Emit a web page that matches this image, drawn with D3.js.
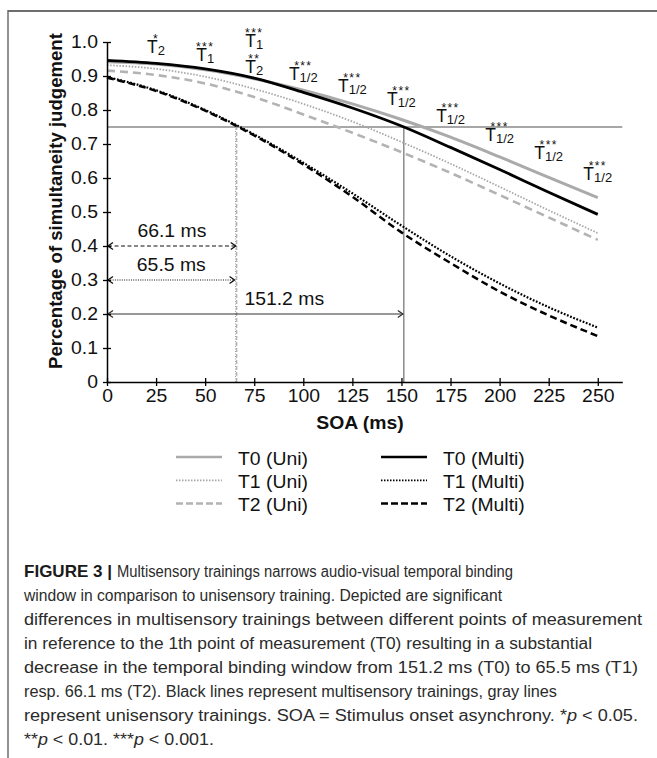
<!DOCTYPE html>
<html>
<head>
<meta charset="utf-8">
<script src="https://cdn.jsdelivr.net/npm/d3@7"></script>
<style>
  html, body { margin: 0; padding: 0; background: #fff; }
  svg { display: block; }
  text { font-family: "Liberation Sans", Arial, Helvetica, sans-serif; }
</style>
</head>
<body>
<svg id="chart" width="657" height="758"></svg>
<script>
// ---------- data ----------
const soa = [0, 25, 50, 75, 100, 125, 150, 175, 200, 225, 250];
const t0Uni   = [0.942, 0.935, 0.918, 0.892, 0.858, 0.818, 0.772, 0.720, 0.662, 0.602, 0.542];
const t1Uni   = [0.932, 0.921, 0.898, 0.862, 0.818, 0.766, 0.706, 0.642, 0.574, 0.505, 0.438];
const t2Uni   = [0.916, 0.903, 0.878, 0.838, 0.787, 0.733, 0.676, 0.615, 0.550, 0.484, 0.418];
const t0Multi = [0.946, 0.937, 0.921, 0.894, 0.852, 0.806, 0.753, 0.690, 0.625, 0.558, 0.493];
const t1Multi = [0.897, 0.858, 0.800, 0.728, 0.645, 0.555, 0.460, 0.370, 0.290, 0.220, 0.160];
const t2Multi = [0.895, 0.856, 0.798, 0.725, 0.640, 0.545, 0.440, 0.350, 0.266, 0.196, 0.135];

const xTicks = [0, 25, 50, 75, 100, 125, 150, 175, 200, 225, 250];
const yTicks = [0, 0.1, 0.2, 0.3, 0.4, 0.5, 0.6, 0.7, 0.8, 0.9, 1.0];

const threshold = 0.75;
const windowT0 = 151.2, windowT1 = 65.5, windowT2 = 66.1;
const arrowLevelT0 = 0.2, arrowLevelT1 = 0.3, arrowLevelT2 = 0.4;

// significance annotations
const annotSOA   = [25, 50, 75, 75, 100, 125, 150, 175, 200, 225, 250];
const annotStars = ["*", "***", "***", "**", "***", "***", "***", "***", "***", "***", "***"];
const annotSub   = ["2", "1", "1", "2", "1/2", "1/2", "1/2", "1/2", "1/2", "1/2", "1/2"];
const annotLevel = [0.968, 0.944, 0.985, 0.909, 0.888, 0.854, 0.815, 0.766, 0.709, 0.656, 0.594];

const legendLabels = ["T0 (Uni)", "T1 (Uni)", "T2 (Uni)", "T0 (Multi)", "T1 (Multi)", "T2 (Multi)"];

// ---------- drawing ----------
const svg = d3.select("#chart");
const FS = 17.5, STRETCH = 1.107;
function stretch(sel, f) {
  sel.each(function () {
    const w = this.getComputedTextLength();
    d3.select(this).attr("textLength", w * f).attr("lengthAdjust", "spacingAndGlyphs");
  });
}

// figure frame (top and left rules)
svg.append("line").attr("x1", 8).attr("x2", 657).attr("y1", 11).attr("y2", 11)
  .attr("stroke", "#6e6e6e").attr("stroke-width", 2);
svg.append("line").attr("x1", 8).attr("x2", 8).attr("y1", 10).attr("y2", 758)
  .attr("stroke", "#6e6e6e").attr("stroke-width", 1.5);

const x = d3.scaleLinear().domain([0, 262.5]).range([107, 622.3]);
const y = d3.scaleLinear().domain([0, 1]).range([382, 42]);

const series = [
  { vals: t0Uni,   color: "#aaaaaa", width: 3,   dash: null },
  { vals: t1Uni,   color: "#a6a6a6", width: 1.8, dash: "1.5,1.6" },
  { vals: t2Uni,   color: "#b3b3b3", width: 2.6, dash: "8,5" },
  { vals: t0Multi, color: "#000000", width: 2.8, dash: null },
  { vals: t1Multi, color: "#000000", width: 2.2, dash: "1.8,1.6" },
  { vals: t2Multi, color: "#000000", width: 2.5, dash: "7,4" }
];

// reference lines
svg.append("line").attr("x1", x(0)).attr("x2", x(262.5))
  .attr("y1", y(threshold)).attr("y2", y(threshold))
  .attr("stroke", "#8a8a8a").attr("stroke-width", 1.3);
svg.append("line").attr("x1", x(windowT0)).attr("x2", x(windowT0))
  .attr("y1", y(0)).attr("y2", y(threshold))
  .attr("stroke", "#7a7a7a").attr("stroke-width", 1.3);
svg.append("line").attr("x1", x(windowT2)).attr("x2", x(windowT2))
  .attr("y1", y(0)).attr("y2", y(threshold))
  .attr("stroke", "#9a9a9a").attr("stroke-width", 1).attr("stroke-dasharray", "4,2");
svg.append("line").attr("x1", x(windowT1)).attr("x2", x(windowT1))
  .attr("y1", y(0)).attr("y2", y(threshold))
  .attr("stroke", "#9a9a9a").attr("stroke-width", 1).attr("stroke-dasharray", "1,1.5");

// curves
const line = d3.line().x((d, i) => x(soa[i])).y(d => y(d)).curve(d3.curveMonotoneX);
series.forEach(s => {
  svg.append("path").datum(s.vals).attr("d", line)
    .attr("fill", "none").attr("stroke", s.color).attr("stroke-width", s.width)
    .attr("stroke-dasharray", s.dash);
});

// window arrows
function arrow(x0, x1, yy, dash, color, label, labelX) {
  const g = svg.append("g");
  g.append("line").attr("x1", x0 + 1).attr("x2", x1 - 1).attr("y1", yy).attr("y2", yy)
    .attr("stroke", color).attr("stroke-width", 1.2).attr("stroke-dasharray", dash);
  g.append("path").attr("d", `M${x0 + 6},${yy - 3.5} L${x0 + 1},${yy} L${x0 + 6},${yy + 3.5}`)
    .attr("fill", "none").attr("stroke", color).attr("stroke-width", 1.3);
  g.append("path").attr("d", `M${x1 - 6},${yy - 3.5} L${x1 - 1},${yy} L${x1 - 6},${yy + 3.5}`)
    .attr("fill", "none").attr("stroke", color).attr("stroke-width", 1.3);
  const t = g.append("text").attr("x", labelX).attr("y", yy - 9).attr("text-anchor", "middle")
    .attr("font-size", FS).attr("fill", "#111").text(label);
  stretch(t, STRETCH);
}
arrow(x(0), x(windowT2), y(arrowLevelT2), "4,2.5", "#111", windowT2 + " ms", (x(0) + x(windowT2)) / 2);
arrow(x(0), x(windowT1), y(arrowLevelT1), "1,1.3", "#111", windowT1 + " ms", (x(0) + x(windowT1)) / 2);
arrow(x(0), x(windowT0), y(arrowLevelT0), null, "#333", windowT0 + " ms", x(90.3));

// axes
const xAxis = svg.append("g").attr("transform", `translate(0,${y(0)})`)
  .call(d3.axisBottom(x).tickValues(xTicks).tickSize(4).tickSizeOuter(0));
xAxis.select(".domain").attr("stroke", "#000").attr("stroke-width", 1.5);
xAxis.selectAll(".tick line").attr("y1", -4).attr("y2", 4).attr("stroke-width", 1.3);
xAxis.selectAll(".tick text").attr("y", 8).attr("font-size", FS)
  .attr("font-family", "Liberation Sans, Arial, sans-serif").attr("fill", "#111");
stretch(xAxis.selectAll(".tick text"), STRETCH);

const yAxis = svg.append("g").attr("transform", `translate(${x(0)},0)`)
  .call(d3.axisLeft(y).tickValues(yTicks).tickSize(4).tickSizeOuter(0)
    .tickFormat(d => d === 0 ? "0" : d3.format(".1f")(d)));
yAxis.select(".domain").attr("stroke", "#000").attr("stroke-width", 1.5);
yAxis.selectAll(".tick line").attr("x1", -4).attr("x2", 4).attr("stroke-width", 1.3);
yAxis.selectAll(".tick text").attr("x", -9).attr("font-size", FS)
  .attr("font-family", "Liberation Sans, Arial, sans-serif").attr("fill", "#111");
stretch(yAxis.selectAll(".tick text"), STRETCH);

// axis titles
svg.append("text").attr("transform", "translate(62,201) rotate(-90)")
  .attr("text-anchor", "middle").attr("font-size", 18.6).attr("font-weight", "bold")
  .attr("fill", "#111").text("Percentage of simultaneity judgement");
const xt = svg.append("text").attr("x", 360).attr("y", 429).attr("text-anchor", "middle")
  .attr("font-size", FS).attr("font-weight", "bold").attr("fill", "#111").text("SOA (ms)");
stretch(xt, STRETCH);

// significance annotations (stars + T label in one text element)
annotSOA.forEach((s, i) => {
  const ax = x(s), ay = y(annotLevel[i]);
  const t = svg.append("text").attr("text-anchor", "middle").attr("fill", "#111");
  t.append("tspan").attr("x", ax).attr("y", ay - 10).attr("font-size", 12)
    .attr("letter-spacing", 1.4).text(annotStars[i]);
  t.append("tspan").attr("x", ax).attr("y", ay).attr("font-size", FS).text("T");
  t.append("tspan").attr("font-size", 13).attr("dy", 2).text(annotSub[i]);
});

// legend
const legendCols = [176, 381];
const legendRows = [464.5, 487.8, 511];
series.forEach((s, i) => {
  const cx = legendCols[Math.floor(i / 3)], by = legendRows[i % 3];
  svg.append("line").attr("x1", cx).attr("x2", cx + 46).attr("y1", by - 7.5).attr("y2", by - 7.5)
    .attr("stroke", s.color).attr("stroke-width", i % 3 === 1 ? 1.8 : 2.6)
    .attr("stroke-dasharray", i % 3 === 2 ? "7,3" : (i % 3 === 1 ? "1.5,1.5" : null));
  const t = svg.append("text").attr("x", cx + 62).attr("y", by).attr("font-size", FS)
    .attr("fill", "#111").text(legendLabels[i]);
  stretch(t, STRETCH);
});

// caption
const capX = 24, capY0 = 576.7, capDY = 24.04;
const capLines = [
  { segs: [["Multisensory trainings narrows audio-visual temporal binding", ""]], x: 117, end: 513 },
  { segs: [["window in comparison to unisensory training. Depicted are significant", ""]], end: 502 },
  { segs: [["differences in multisensory trainings between different points of measurement", ""]], end: 642 },
  { segs: [["in reference to the 1th point of measurement (T0) resulting in a substantial", ""]], end: 592 },
  { segs: [["decrease in the temporal binding window from 151.2 ms (T0) to 65.5 ms (T1)", ""]], end: 638 },
  { segs: [["resp. 66.1 ms (T2). Black lines represent multisensory trainings, gray lines", ""]], end: 557 },
  { segs: [["represent unisensory trainings. SOA = Stimulus onset asynchrony. *", ""], ["p", "i"], [" < 0.05.", ""]], end: 638 },
  { segs: [["**", ""], ["p", "i"], [" < 0.01. ***", ""], ["p", "i"], [" < 0.001.", ""]], end: 214 }
];
svg.append("text").attr("x", capX).attr("y", capY0).attr("font-size", 16.5)
  .attr("font-weight", "bold").attr("fill", "#1a1a1a")
  .attr("textLength", 88).attr("lengthAdjust", "spacingAndGlyphs").text("FIGURE 3 |");
capLines.forEach((ln, i) => {
  const lx = ln.x || capX;
  const t = svg.append("text").attr("x", lx).attr("y", capY0 + i * capDY)
    .attr("font-size", 15.6).attr("fill", "#2b2b2b")
    .attr("textLength", ln.end - lx).attr("lengthAdjust", "spacingAndGlyphs");
  ln.segs.forEach(sg => {
    const ts = t.append("tspan").text(sg[0]);
    if (sg[1] === "i") ts.attr("font-style", "italic");
  });
});
</script>
</body>
</html>
